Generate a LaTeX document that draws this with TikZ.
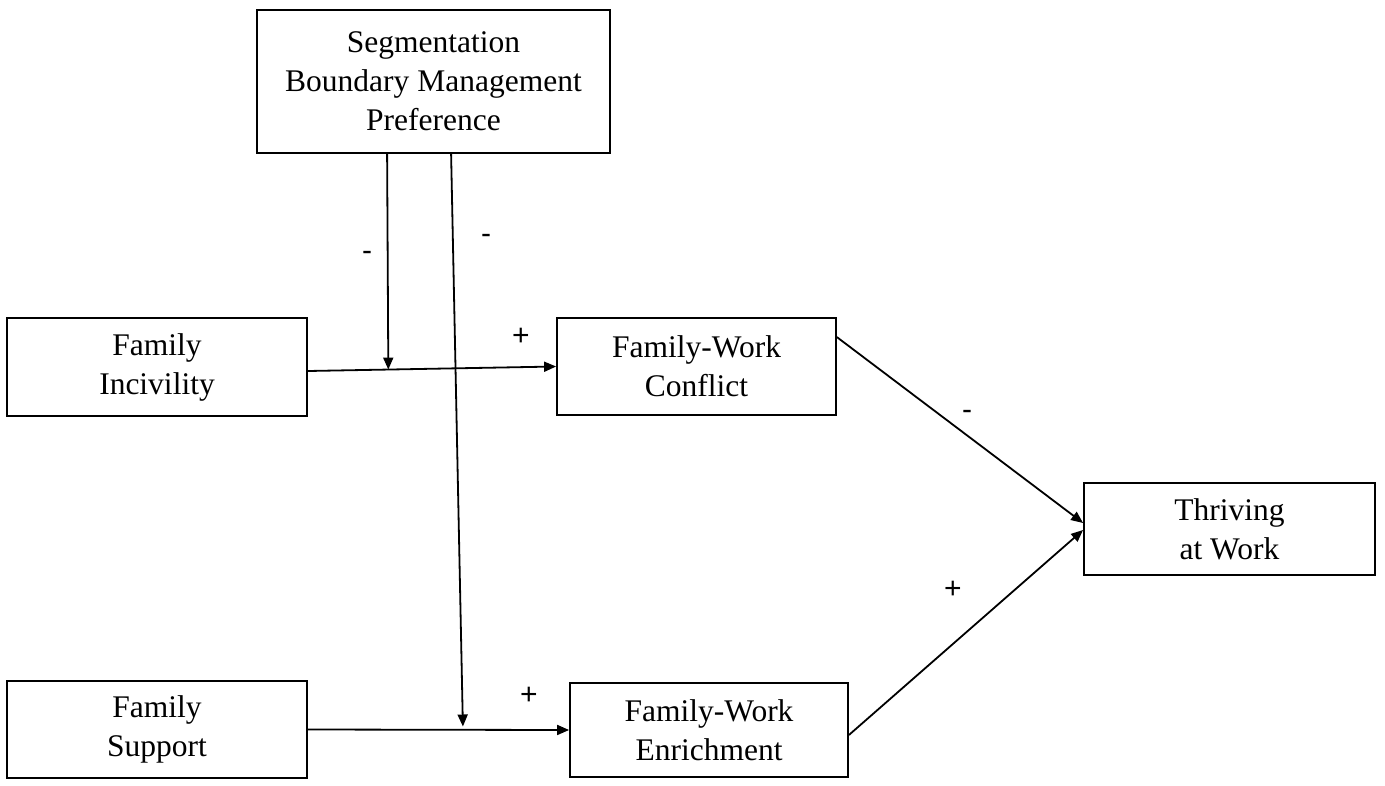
\documentclass[tikz,border=0pt]{standalone}
\usepackage{fontspec}
\setmainfont{Liberation Serif}
\newfontfamily\lblfont{Liberation Sans}
\usetikzlibrary{arrows.meta,calc}
\begin{document}
\begin{tikzpicture}[x=1pt,y=-1pt,
  box/.style={draw,line width=1.8pt,inner sep=0pt,align=center,font=\fontsize{31.5}{39}\selectfont},
  conn/.style={line width=1.8pt,-{Triangle[length=12pt,width=10pt]}},
  lbl/.style={font=\lblfont\fontsize{30}{34}\selectfont}]
\useasboundingbox (0,0) rectangle (1385,785);
\node[box,minimum width=353pt,minimum height=143pt] (seg) at (433.5,81.5) {Segmentation\\Boundary Management\\Preference};
\node[box,minimum width=300pt,minimum height=98pt] (inc) at (157,367) {Family\\Incivility};
\node[box,minimum width=279pt,minimum height=97pt] (fwc) at (696.5,366.5) {Family-Work\\Conflict};
\node[box,minimum width=291pt,minimum height=92pt] (thr) at (1229.5,529) {Thriving\\at Work};
\node[box,minimum width=300pt,minimum height=97pt] (sup) at (157,729.5) {Family\\Support};
\node[box,minimum width=278pt,minimum height=94pt] (fwe) at (709,730) {Family-Work\\Enrichment};
% connector points
\coordinate (incout) at ($(inc.east)+(0,4)$);
\coordinate (fwcin) at (fwc.west);
\coordinate (m1top) at ($(seg.south west)+(131,0)$);
\coordinate (m1tip) at ($(incout)!0.324!(fwcin)$);
\coordinate (m2top) at ($(seg.south west)+(195,0)$);
\coordinate (m2tip) at ($(sup.east)+(155,-3)$);
\coordinate (fwcout) at ($(fwc.north east)+(0,20)$);
\coordinate (fweout) at ($(fwe.east)+(0,5)$);
\coordinate (thrin1) at ($(thr.west)+(0,-6)$);
\coordinate (thrin2) at ($(thr.west)+(0,1)$);
\draw[conn] (incout) -- (fwcin);
\draw[conn] (sup.east) -- (fwe.west);
\draw[conn] (m1top) -- (m1tip);
\draw[conn] (m2top) -- (m2tip);
\draw[conn] (fwcout) -- (thrin1);
\draw[conn] (fweout) -- (thrin2);
% labels
\node[lbl] (l1) at (367,256) {-};
\node[lbl] (l2) at (486,239) {-};
\node[lbl] (l3) at (521,337) {+};
\node[lbl] (l4) at (529,696) {+};
\node[lbl] (l5) at (967,415) {-};
\node[lbl] (l6) at (953,590) {+};
\end{tikzpicture}
\end{document}
